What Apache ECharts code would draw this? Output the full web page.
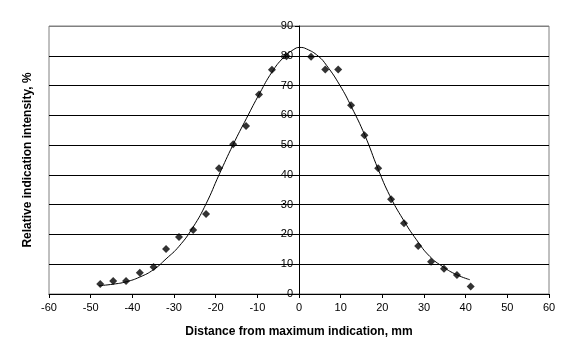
<!DOCTYPE html>
<html><head><meta charset="utf-8">
<script src="https://cdn.jsdelivr.net/npm/echarts@6/dist/echarts.min.js"></script>
<style>html,body{margin:0;padding:0;background:#fff}#c{width:576px;height:360px}</style>
</head><body><div id="c"></div>
<script>
var xTitle = 'Distance from maximum indication, mm';
var yTitle = 'Relative indication intensity, %';
var pointX = [-47.7,-44.6,-41.5,-38.2,-34.9,-31.9,-28.8,-25.4,-22.3,-19.2,-15.8,-12.7,-9.6,-6.5,-3.0,2.9,6.3,9.4,12.5,15.7,19.0,22.1,25.2,28.6,31.7,34.8,37.9,41.2];
var pointY = [3.4,4.4,4.4,7.1,9.1,15.1,19.1,21.5,26.9,42.2,50.3,56.4,67.0,75.3,79.8,79.7,75.4,75.4,63.4,53.3,42.2,31.8,23.8,16.1,10.8,8.5,6.4,2.5];
var curveX = [-48.0,-44.6,-41.5,-38.2,-34.9,-31.9,-28.8,-25.4,-22.3,-19.2,-15.8,-12.6,-9.4,-6.5,-3.8,-1.4,0.2,1.8,4.6,6.6,9.8,12.6,15.8,19.0,21.8,25.0,28.2,31.4,34.6,37.8,41.0];
var curveY = [2.8,3.3,4.1,5.7,8.2,11.8,16.0,22.5,30.3,40.0,50.2,59.0,67.5,74.5,79.3,82.0,82.8,82.3,79.9,76.8,70.1,62.8,53.3,41.9,33.0,25.0,18.2,12.6,9.1,6.5,4.8];
var xTicks = {min:-60, max:60, step:10};
var yTicks = {min:0, max:90, step:10};

var chart = echarts.init(document.getElementById('c'), null, {renderer:'canvas'});
var font = 'Liberation Sans, Arial, sans-serif';
var splitColors = [];
for (var v = yTicks.min; v <= yTicks.max; v += yTicks.step) splitColors.push(v === yTicks.max ? '#808080' : '#000000');
chart.setOption({
  animation:false,
  backgroundColor:'#ffffff',
  grid:{left:49, right:27, top:26, bottom:66, show:true, borderColor:'#808080', borderWidth:1, backgroundColor:'transparent'},
  xAxis:{type:'value', min:xTicks.min, max:xTicks.max, interval:xTicks.step,
    name:xTitle, nameLocation:'middle', nameGap:32,
    nameTextStyle:{fontFamily:font, fontSize:12, fontWeight:'bold', color:'#000'},
    axisLine:{show:true, onZero:false, lineStyle:{color:'#000', width:1}},
    axisTick:{show:true, inside:false, length:4, lineStyle:{color:'#000'}},
    axisLabel:{fontFamily:font, fontSize:11, color:'#000', margin:8},
    splitLine:{show:false}},
  yAxis:{type:'value', min:yTicks.min, max:yTicks.max, interval:yTicks.step,
    position:'left', offset:-250,
    axisLine:{show:true, onZero:false, lineStyle:{color:'#000', width:1}},
    axisTick:{show:true, inside:false, length:4, lineStyle:{color:'#000'}},
    axisLabel:{fontFamily:font, fontSize:11, color:'#000', margin:6},
    splitLine:{show:true, lineStyle:{color:splitColors, width:1}}},
  graphic:[{type:'text', rotation:Math.PI/2, x:28, y:160,
    style:{text:yTitle, font:'bold 12px '+font, fill:'#000', textAlign:'center', textVerticalAlign:'middle'}}],
  series:[
    {type:'line', data:curveX.map(function(x,i){return [x, curveY[i]];}), smooth:0.5, showSymbol:false, symbol:'none',
      lineStyle:{color:'#000', width:1}, z:2},
    {type:'scatter', data:pointX.map(function(x,i){return [x, pointY[i]];}), symbol:'diamond', symbolSize:8,
      itemStyle:{color:'#000'}, z:3}
  ]
});
</script></body></html>
